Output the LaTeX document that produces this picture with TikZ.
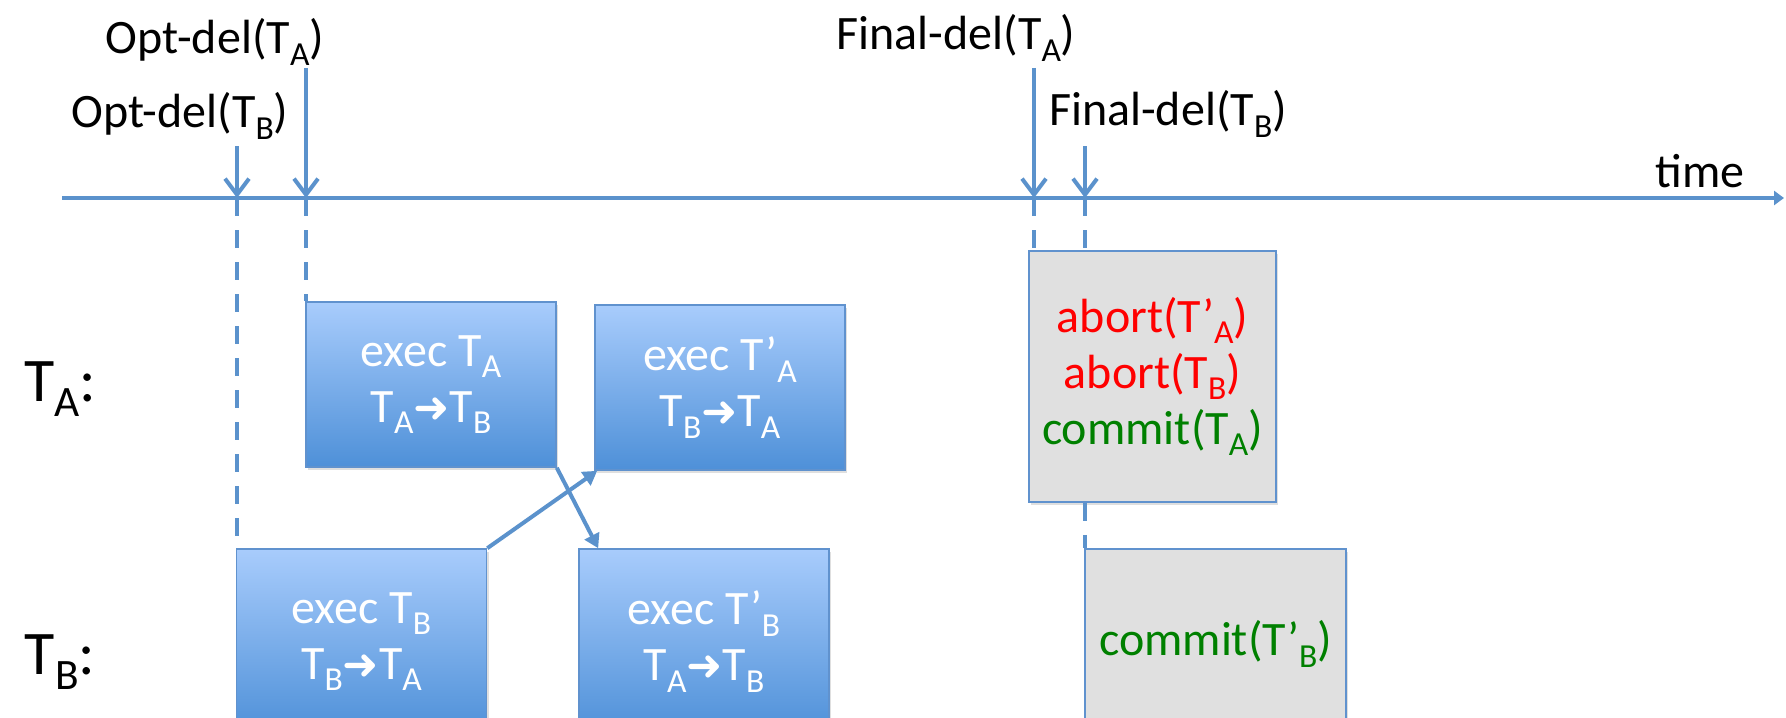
\documentclass[tikz,border=0pt]{standalone}
\usepackage{fontspec}
\setmainfont{Carlito}
\newfontfamily\arrowfont{DejaVu Sans}
\usetikzlibrary{calc}
\usetikzlibrary{arrows.meta}
\usetikzlibrary{shadows}

\definecolor{axisblue}{RGB}{91,146,204}
\definecolor{boxtop}{RGB}{168,204,252}
\definecolor{boxbottom}{RGB}{78,144,216}
\definecolor{boxline}{RGB}{96,146,206}
\definecolor{boxgray}{RGB}{224,224,224}
\definecolor{okgreen}{RGB}{0,128,0}

% Office-like subscript: smaller and set well below the baseline
\newcommand{\lowsub}[1]{\raisebox{-0.24em}{\scalebox{0.7}{#1}}}
\newcommand{\Ts}[1]{T\lowsub{#1}}
\newcommand{\Tp}[1]{T’\lowsub{#1}}
\newcommand{\dep}{{\arrowfont\scalebox{0.9}{➜}}}

\begin{document}
\begin{tikzpicture}[x=0.5pt, y=-0.5pt,
		font=\fontsize{24}{28}\selectfont,
		axis/.style={draw=axisblue, line width=2pt},
		evt/.style={axis, -{Straight Barb[length=8pt, width=12pt]}},
		guide/.style={axis, dash pattern=on 9pt off 7pt},
		exec/.style={draw=boxline, line width=0.8pt, top color=boxtop, bottom color=boxbottom,
			text=white, align=center, minimum width=125pt, minimum height=82.5pt,
			drop shadow={opacity=0.25, shadow xshift=1pt, shadow yshift=-1.5pt}},
		final/.style={draw=boxline, line width=0.8pt, fill=boxgray, align=center,
			drop shadow={opacity=0.25, shadow xshift=1pt, shadow yshift=-1.5pt}},
		swap/.style={draw=axisblue, line width=2pt, -{Triangle[length=7pt, width=8pt]}}]

			\useasboundingbox (0,0) rectangle (1786,717);
			\clip (0,0) rectangle (1786,717);

			% time axis
			\coordinate (t0) at (62,198);
			\coordinate (t1) at (1784,198);
			\draw[axis, -{Triangle[length=5pt, width=7pt]}] (t0) -- (t1);
			\node (time) at (1700,171) {time};

			% delivery events on the axis
			\foreach \x/\y/\n in {237/146/ob, 306/68/oa, 1034/68/fa, 1085/146/fb} {
				\coordinate (\n top) at (\x,\y);
				\coordinate (\n) at (\x,198);
				\draw[evt] (\n top) -- (\n);
			}
			\node (loa) at (215,42) {Opt-del(\Ts{A})};
			\node (lob) at (180,116) {Opt-del(\Ts{B})};
			\node (lfa) at (956,38) {Final-del(\Ts{A})};
			\node (lfb) at (1168,114) {Final-del(\Ts{B})};

			% transactions
			\node[font=\fontsize{31}{36}\selectfont] (rowa) at (60,389) {\Ts{A}:};
			\node[font=\fontsize{31}{36}\selectfont] (rowb) at (60,662) {\Ts{B}:};

			\node[exec] (exa) at (431,384.5) {exec \Ts{A}\\ \Ts{A}\dep\Ts{B}};
			\node[exec] (exap) at (720,387.5) {exec \Tp{A}\\ \Ts{B}\dep\Ts{A}};
			\node[exec, minimum height=92.5pt] (exb) at (361.5,641.5) {exec \Ts{B}\\ \Ts{B}\dep\Ts{A}};
			\node[exec, minimum height=92.5pt] (exbp) at (704,641.5) {exec \Tp{B}\\ \Ts{A}\dep\Ts{B}};

			\node[final, minimum width=123.5pt, minimum height=125.5pt] (fin1) at (1152.5,376.5)
				{\textcolor{red}{abort(\Tp{A})}\\ \textcolor{red}{abort(\Ts{B})}\\ \textcolor{okgreen}{commit(\Ts{A})}};
			\node[final, minimum width=130.5pt, minimum height=95pt] (fin2) at (1215.5,644)
				{\textcolor{okgreen}{commit(\Tp{B})}};

			% dashed guides down from the axis
			\draw[guide] (oa) -- (oa |- exa.north);
			\draw[guide] (ob) -- (ob |- exb.north);
			\draw[guide] (fa) -- (fa |- fin1.north);
			\draw[guide] (fb) -- (fb |- fin1.north);
			\draw[guide] (fin1.south -| fb) -- (fb |- fin2.north);

			\draw[swap] (exa.south east) -- ($(exbp.north west)+(20,0)$);
			\draw[swap] (exb.north east) -- ($(exap.south west)+(3,0)$);
		\end{tikzpicture}
\end{document}
